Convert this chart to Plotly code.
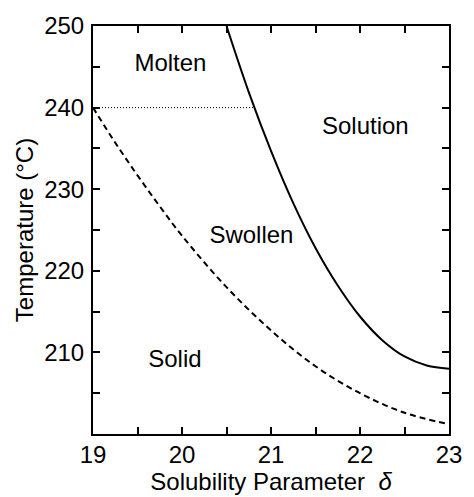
import plotly.graph_objects as go

# Swelling boundary (solid line)
swell_delta = [20.5, 20.75, 21.0, 21.25, 21.5, 21.75, 22.0, 22.25, 22.5, 22.75, 23.0]
swell_temp = [250.0, 241.9, 234.7, 228.3, 222.8, 218.2, 214.4, 211.5, 209.5, 208.4, 208.0]

# Melting / solid boundary (dashed line)
solid_delta = [19.0, 19.25, 19.5, 19.75, 20.0, 20.5, 21.0, 21.5, 22.0, 22.5, 23.0]
solid_temp = [240.0, 235.7, 231.7, 227.9, 224.3, 218.0, 212.7, 208.3, 205.0, 202.6, 201.2]

# Molten boundary (dotted line)
molten_delta = [19.0, 20.81]
molten_temp = [240.0, 240.0]

region_labels = ["Molten", "Solution", "Swollen", "Solid"]
region_delta = [19.87, 22.06, 20.78, 19.92]
region_temp = [245.2, 237.5, 224.1, 209.0]

x_ticks = [19, 19.5, 20, 20.5, 21, 21.5, 22, 22.5, 23]
x_ticktext = ["19", "", "20", "", "21", "", "22", "", "23"]
y_ticks = [200, 205, 210, 215, 220, 225, 230, 235, 240, 245, 250]
y_ticktext = ["", "", "210", "", "220", "", "230", "", "240", "", "250"]

FONT = "Liberation Sans, Arial, sans-serif"
FS = 24

fig = go.Figure()
fig.add_trace(go.Scatter(x=swell_delta, y=swell_temp, mode="lines", line_shape="spline",
                         line=dict(color="black", width=2)))
fig.add_trace(go.Scatter(x=solid_delta, y=solid_temp, mode="lines", line_shape="spline",
                         line=dict(color="black", width=2, dash="6px,4px")))
fig.add_trace(go.Scatter(x=molten_delta, y=molten_temp, mode="lines",
                         line=dict(color="black", width=1, dash="1px,2px")))
fig.add_trace(go.Scatter(x=region_delta, y=region_temp, mode="text", text=region_labels,
                         textfont=dict(family=FONT, size=FS, color="black")))

fig.update_layout(
    width=474, height=497,
    margin=dict(l=93, r=16, t=20, b=49),
    paper_bgcolor="white", plot_bgcolor="white",
    showlegend=False,
    font=dict(family=FONT, size=FS, color="black"),
)
fig.update_xaxes(range=[19, 23], tickvals=x_ticks, ticktext=x_ticktext,
                 ticks="inside", ticklen=7, tickwidth=1.5, tickcolor="black",
                 showline=True, linecolor="black", linewidth=2, mirror="ticks",
                 showgrid=False, zeroline=False,
                 tickfont=dict(size=FS), ticklabelstandoff=-2,
                 title=dict(text="Solubility Parameter  <i>δ</i>", standoff=0,
                            font=dict(size=FS)))
fig.update_yaxes(range=[200, 250], tickvals=y_ticks, ticktext=y_ticktext,
                 ticks="inside", ticklen=7, tickwidth=1.5, tickcolor="black",
                 showline=True, linecolor="black", linewidth=2, mirror="ticks",
                 showgrid=False, zeroline=False,
                 tickfont=dict(size=FS), ticklabelstandoff=2,
                 title=dict(text="Temperature (°C)", standoff=4, font=dict(size=FS)))

fig.write_html("out.html")
